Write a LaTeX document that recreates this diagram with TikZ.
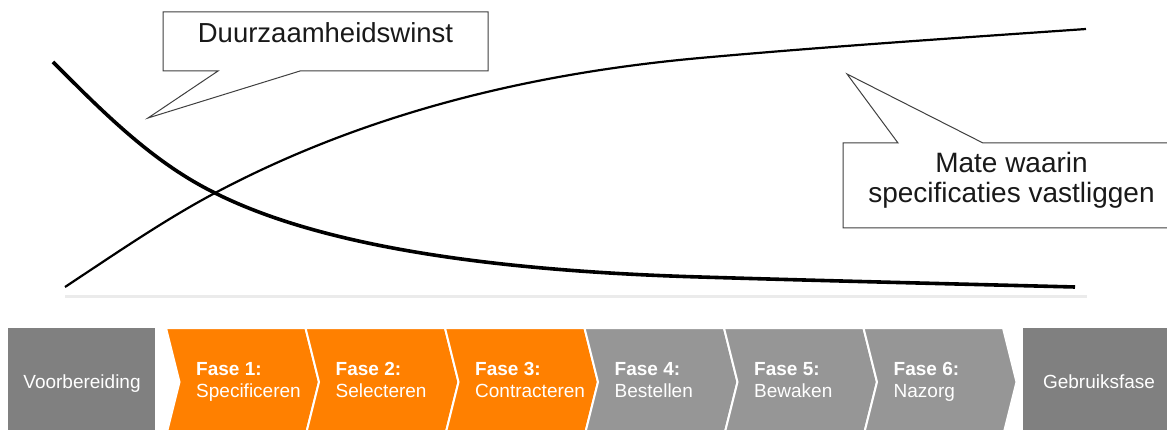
\documentclass[tikz,border=0pt]{standalone}
\usepackage{fontspec}
\setmainfont{Liberation Sans}
\definecolor{phaseorange}{HTML}{FF8000}
\definecolor{phasegray}{HTML}{969696}
\definecolor{endgray}{HTML}{808080}
\definecolor{axisgray}{HTML}{EBEBEB}
\definecolor{outline}{HTML}{404040}
\begin{document}
\begin{tikzpicture}[x=1pt,y=-1pt,
  calloutbox/.style={draw=outline, fill=white, line width=1pt, line join=miter},
  calltext/.style={font=\fontsize{27.5}{31}\selectfont, anchor=base, inner sep=0pt, text=black!90},
  thickcurve/.style={line width=3.6pt},
  thincurve/.style={line width=2.2pt},
  axisline/.style={draw=axisgray, line width=3pt},
  orangechev/.style={fill=phaseorange, draw=white, line width=2pt},
  graychev/.style={fill=phasegray, draw=white, line width=2pt},
  endbox/.style={fill=endgray},
  bartext/.style={text=white, font=\fontsize{19}{22}\selectfont, inner sep=0pt, anchor=base},
  barleft/.style={bartext, anchor=base west},
  barbold/.style={bartext, anchor=base west, font=\fontsize{19}{22}\selectfont\bfseries}
]
\path[use as bounding box, clip] (0,0) rectangle (1167,430);
\fill[white] (0,0) rectangle (1167,430);

% axis line
\draw[axisline] (65,297) -- (1087,297);

% curves
\coordinate (c2a) at (65,287);
\coordinate (cross) at (215,193);
\coordinate (c2b) at (700,58);
\coordinate (c2c) at (1086,29);
\draw[thincurve] (c2a) .. controls (115,254) and (165,219.5) .. (cross)
  .. controls (354,119.3) and (514,74.8) .. (c2b)
  .. controls (829,46.4) and (957,38) .. (c2c);

\coordinate (c1a) at (53,62);
\coordinate (c1b) at (700,277);
\coordinate (c1c) at (1075,287);
\draw[thickcurve] (c1a) .. controls (103,112) and (152,162) .. (cross)
  .. controls (314,242.6) and (474,270.3) .. (c1b)
  .. controls (825,280.8) and (950,283.8) .. (c1c);

% callout 1
\coordinate (tip1) at (148,118);
\draw[calloutbox] (163,12) -- (488,12) -- (488,71) -- (300,71) -- (tip1) -- (218,71) -- (163,71) -- cycle;
\node[calltext] (dw) at (325.5,43) {Duurzaamheidswinst};

% callout 2
\coordinate (tip2) at (847,74);
\draw[calloutbox] (843,143) -- (898,143) -- (tip2) -- (983,143) -- (1180,143) -- (1180,228) -- (843,228) -- cycle;
\node[calltext, font=\fontsize{28}{30}\selectfont] (mw1) at (1011.5,173) {Mate waarin};
\node[calltext, font=\fontsize{28}{30}\selectfont] (mw2) at (1011.5,203) {specificaties vastliggen};

% bottom bar
\fill[endbox] (8,328) rectangle (155,436);
\node[bartext] (voor) at (82,388) {Voorbereiding};
\fill[endbox] (1023,328) rectangle (1180,436);
\node[bartext] (gebr) at (1099,388) {Gebruiksfase};

\foreach \i/\st/\ta/\tb in {0/orangechev/Fase 1:/Specificeren,1/orangechev/Fase 2:/Selecteren,2/orangechev/Fase 3:/Contracteren,3/graychev/Fase 4:/Bestellen,4/graychev/Fase 5:/Bewaken,5/graychev/Fase 6:/Nazorg}{
  \pgfmathsetmacro{\xa}{166+139.5*\i}
  \pgfmathsetmacro{\xb}{\xa+139.5}
  \draw[\st] (\xa,328) -- (\xb,328) -- (\xb+13.5,382) -- (\xb,436) -- (\xa,436) -- (\xa+13.5,382) -- cycle;
  \node[barbold] (fase\i) at (\xa+30,375) {\ta};
  \node[barleft] (name\i) at (\xa+30,397) {\tb};
}
\end{tikzpicture}
\end{document}
